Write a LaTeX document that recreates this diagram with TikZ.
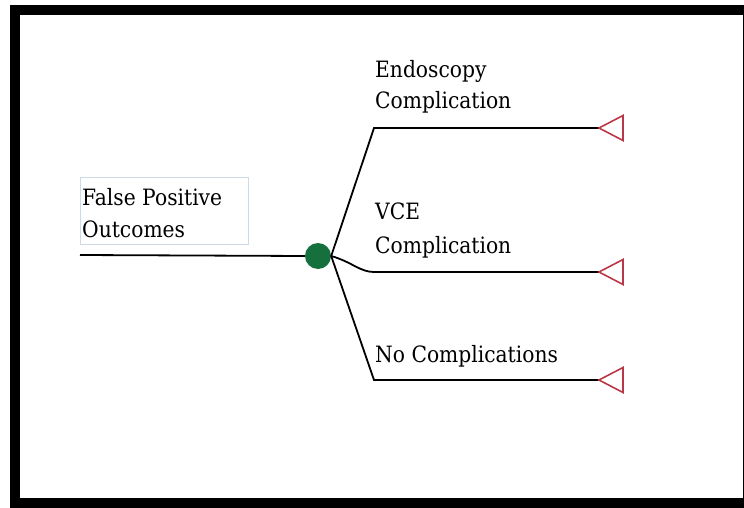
\documentclass[tikz,border=0pt]{standalone}
\usepackage{fontspec}
\setmainfont{DejaVu Serif}[FakeStretch=0.9]
\definecolor{chance}{RGB}{22,112,62}
\definecolor{term}{RGB}{185,55,70}
\definecolor{boxc}{RGB}{205,218,232}
\begin{document}
\begin{tikzpicture}[x=1pt,y=-1pt,
  lbl/.style={anchor=base west,inner sep=0pt,font=\fontsize{22.5}{28}\selectfont},
  branch/.style={line width=1.8pt,black},
  termtri/.style={draw=term,line width=1.6pt,line join=miter}]
\useasboundingbox (0,0) rectangle (744,508);
\fill[black] (10,5) rectangle (744,508);
\fill[white] (20,15) rectangle (743,498);
% label box
\node[draw=boxc,line width=1pt,minimum width=168pt,minimum height=67pt,anchor=north west,inner sep=0pt] (box) at (80,177) {};
\node[lbl] (fp1) at (82,205) {False Positive};
\node[lbl] (fp2) at (82,237) {Outcomes};
% chance node
\coordinate (start) at (80,255);
\node[circle,fill=chance,minimum size=26pt,inner sep=0pt] (c) at (318,256) {};
\draw[branch] (start) -- (c.west);
% branch corners and ends
\coordinate (b1) at (374,128);
\coordinate (b2) at (374,272);
\coordinate (b3) at (374,380);
\coordinate (e1) at (599,128);
\coordinate (e2) at (599,272);
\coordinate (e3) at (599,380);
\draw[branch] (c.east) -- (b1) -- (e1);
\draw[branch] (c.east) .. controls (352,262) and (360,272) .. (b2) -- (e2);
\draw[branch] (c.east) -- (b3) -- (e3);
% terminal triangles
\foreach \e in {e1,e2,e3}{
  \draw[termtri] (\e) -- ++(24,-12.5) -- ++(0,25) -- cycle;
}
% labels
\node[lbl] (l1a) at (375,78) {Endoscopy};
\node[lbl] (l1b) at (375,109) {Complication};
\node[lbl] (l2a) at (375,219) {VCE};
\node[lbl] (l2b) at (375,253) {Complication};
\node[lbl] (l3) at (375,362) {No Complications};
\end{tikzpicture}
\end{document}
